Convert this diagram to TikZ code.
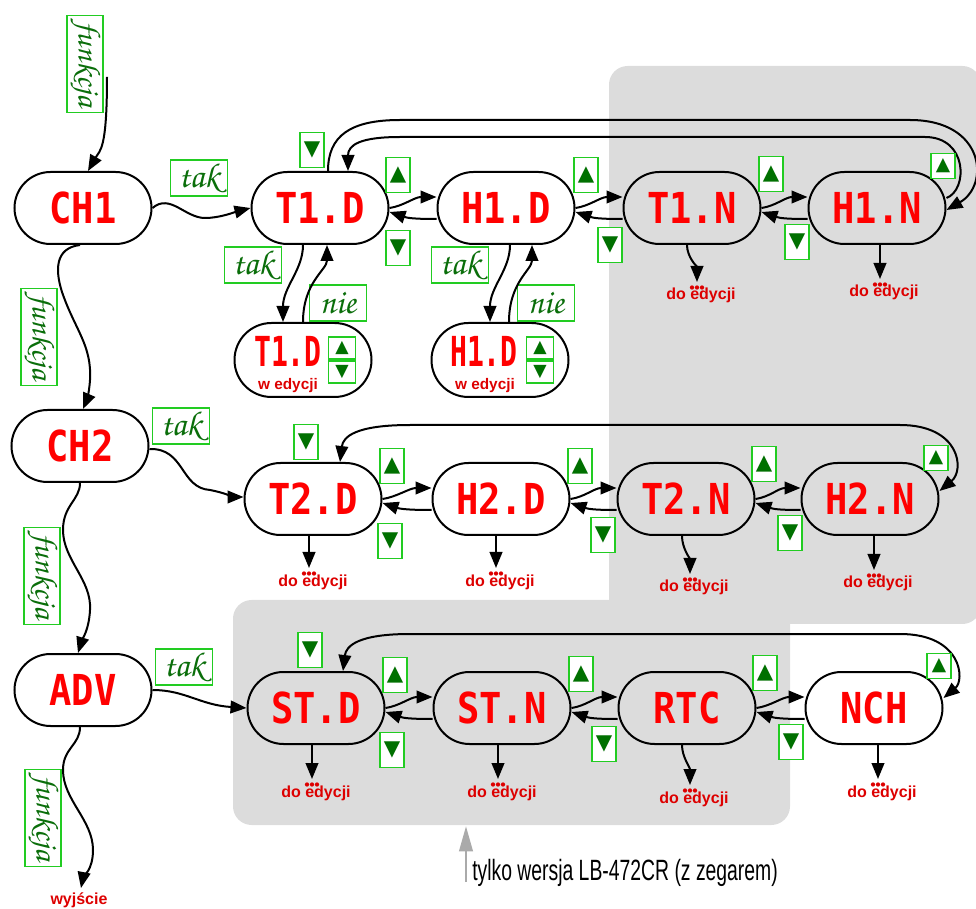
\documentclass[tikz,border=0pt]{standalone}
\usepackage[T1,TU]{fontenc}
\usepackage{fontspec}
\usetikzlibrary{shapes.misc,arrows.meta,calc}
\newfontfamily\dispfam[FakeStretch=0.87]{DejaVu Sans Mono}
\newfontfamily\dispnarrowfam[FakeStretch=0.68]{DejaVu Sans Mono}
\newfontfamily\symfam{DejaVu Sans}
\newfontfamily\arialfam{Liberation Sans}
\newfontfamily\narrowfam[FakeStretch=0.66]{Liberation Sans}
\newcommand\dispfont{\dispfam\bfseries\fontsize{32}{32}\selectfont}
\newcommand\dispnfont{\dispnarrowfam\bfseries\fontsize{31}{31}\selectfont}
\newcommand\chancfont{\fontencoding{T1}\fontfamily{pzc}\fontseries{mb}\fontshape{it}\fontsize{26}{26}\selectfont}
\newcommand\chancvfont{\fontencoding{T1}\fontfamily{pzc}\fontseries{mb}\fontshape{it}\fontsize{24}{24}\selectfont}
\newcommand\symfont{\symfam\fontsize{16}{16}\selectfont}
\newcommand\edfont{\arialfam\bfseries\fontsize{12}{12}\selectfont}
\newcommand\notefont{\narrowfam\fontsize{22}{22}\selectfont}
\definecolor{gbright}{HTML}{22CC22}
\definecolor{gdark}{HTML}{007000}
\definecolor{gtext}{HTML}{0A6E0A}
\definecolor{bggray}{HTML}{DCDCDC}
\definecolor{edred}{HTML}{DD0000}
\definecolor{notegray}{HTML}{AAAAAA}
\newcommand\doedit[3]{%
  \node[edt, anchor=base] (#1) at (#2+4,#3) {do edycji};
  \coordinate (#1a) at (#2,#3-18);
  \foreach \dx in {-5,0,5} \fill[edred] (#2+\dx,#3-12.5) circle[radius=1.6pt];
}
\newcommand\pairarrows[2]{%
  \draw[arr] (#1.east) .. controls +(14,-2) and +(-22,0) .. ($(#2.west)+(0,-11)$);
  \draw[arr] ($(#2.west)+(0,11)$) .. controls +(-22,0) and +(18,6) .. ($(#1.east)+(0,4)$);
}
\begin{document}
\begin{tikzpicture}[x=0.75pt,y=-0.75pt,
  pill/.style={rounded rectangle, draw, line width=1.5pt, minimum width=102.75pt, minimum height=54pt, inner sep=0pt, text=red, font=\dispfont},
  epill/.style={pill, minimum height=55.5pt},
  dtext/.style={inner sep=0pt, text=red, font=\dispnfont},
  arr/.style={line width=1.5pt, -{Triangle[length=12pt,width=9.5pt]}},
  dbl/.style={line width=1.5pt, {Triangle[length=12pt,width=9.5pt]}-{Triangle[length=12pt,width=9.5pt]}},
  gtri/.style={draw=gbright, line width=1.2pt, fill=white, inner sep=0pt, minimum width=18pt, minimum height=26.25pt, text=gdark, font=\symfont},
  gsq/.style={gtri, minimum width=18pt, minimum height=18.75pt, font=\symfam\fontsize{14}{14}\selectfont},
  gedit/.style={gtri, minimum width=20pt, minimum height=16.5pt, font=\symfam\fontsize{13}{13}\selectfont},
  gword/.style={draw=gbright, line width=1.2pt, fill=white, inner sep=0pt, text=gtext, font=\chancfont, minimum width=43pt, minimum height=27pt},
  gvert/.style={gword, rotate=-90, minimum width=73pt, minimum height=27pt, font=\chancvfont},
  edt/.style={inner sep=0pt, text=edred, font=\edfont}
]
\useasboundingbox (0,0) rectangle (976,909);
% gray regions
\fill[bggray, rounded corners=14pt] (609,66) rectangle (981,624);
\fill[bggray, rounded corners=14pt] (233,600) rectangle (790,825);

% main nodes
\node[pill] (CH1) at (83,208) {CH1};
\node[pill] (T1D) at (320,208) {T1.D};
\node[pill] (H1D) at (506,208) {H1.D};
\node[pill] (T1N) at (692,208) {T1.N};
\node[pill] (H1N) at (877,208) {H1.N};
\node[pill] (CH2) at (80,446) {CH2};
\node[pill] (T2D) at (313,499) {T2.D};
\node[pill] (H2D) at (501,499) {H2.D};
\node[pill] (T2N) at (686,499) {T2.N};
\node[pill] (H2N) at (870,499) {H2.N};
\node[pill] (ADV) at (83,690) {ADV};
\node[pill] (STD) at (316,708) {ST.D};
\node[pill] (STN) at (502,708) {ST.N};
\node[pill] (RTC) at (687,708) {RTC};
\node[pill, fill=white] (NCH) at (874,708) {NCH};

% edit nodes
\node[epill] (T1E) at (303,360) {};
\node[dtext] (T1Et) at (288,351) {T1.D};
\node[edt, anchor=base, font=\arialfam\bfseries\fontsize{11.5}{11.5}\selectfont] (T1Ew) at (288,390) {w edycji};
\node[gedit] (T1Eu) at (342,348) {▲};
\node[gedit] (T1Ed) at (342,372) {▼};
\node[epill] (H1E) at (500,360) {};
\node[dtext] (H1Et) at (484,351) {H1.D};
\node[edt, anchor=base, font=\arialfam\bfseries\fontsize{11.5}{11.5}\selectfont] (H1Ew) at (485,390) {w edycji};
\node[gedit] (H1Eu) at (540,348) {▲};
\node[gedit] (H1Ed) at (540,372) {▼};

% word boxes
\node[gvert] (f1) at (85,64) {funkcja};
\node[gvert] (f2) at (39,337) {funkcja};
\node[gvert] (f3) at (42,576) {funkcja};
\node[gvert] (f4) at (43,818) {funkcja};
\node[gword] (tak1) at (199,178) {tak};
\node[gword] (tak2) at (181,426) {tak};
\node[gword] (tak3) at (184,667) {tak};
\node[gword] (tak4) at (253,265) {tak};
\node[gword] (nie1) at (338,303) {nie};
\node[gword] (tak5) at (460,265) {tak};
\node[gword] (nie2) at (546,303) {nie};

% left column connectors
\coordinate (f1s) at (107,77);
\draw[arr] (f1s) .. controls (107,150) and (100,150) .. ($(CH1.north)+(5,0)$);
\draw[arr] ($(CH1.south)+(-3,0)$) .. controls (55,248) and (55,270) .. (62,292)
   .. controls (75,330) and (92,345) .. (90,380) .. controls (89,395) and (86,402) .. ($(CH2.north)+(3,0)$);
\draw[arr] (CH2.south) .. controls (80,500) and (63,505) .. (63,530)
   .. controls (63,560) and (92,580) .. (90,610) .. controls (89,630) and (82,640) .. ($(ADV.north)+(-5,0)$);
\node[edt, anchor=base] (wyj) at (79,904) {wyjście};
\coordinate (wyja) at (81,888);
\draw[arr] ($(ADV.south)+(-3,0)$) .. controls (80,745) and (63,748) .. (63,770)
   .. controls (63,800) and (93,820) .. (93,850) .. controls (93,870) and (83,878) .. (wyja);

% row entries
\draw[arr] (CH1.east) .. controls (170,193) and (185,218) .. (205,218) .. controls (220,218) and (235,212) .. (T1D.west);
\draw[arr] ($(CH2.east)+(0,3)$) .. controls (185,448) and (180,488) .. (210,490) .. controls (225,493) and (235,497) .. ($(T2D.west)+(0,-2)$);
\draw[arr] (ADV.east) .. controls (185,690) and (200,705) .. (STD.west);

% pairs
\pairarrows{T1D}{H1D}
\pairarrows{H1D}{T1N}
\pairarrows{T1N}{H1N}
\pairarrows{T2D}{H2D}
\pairarrows{H2D}{T2N}
\pairarrows{T2N}{H2N}
\pairarrows{STD}{STN}
\pairarrows{STN}{RTC}
\pairarrows{RTC}{NCH}

% loops
\draw[arr] ($(T1D.north)+(8,0)$) .. controls +(0,-35) and (350,120) .. (400,120) -- (910,120)
   .. controls (985,120) and (990,185) .. ($(H1N.east)+(0,2)$);
\draw[arr] ($(H1N.east)+(0,-10)$) .. controls (968,190) and (968,137) .. (925,137) -- (400,137)
   .. controls (360,137) and (348,145) .. ($(T1D.north)+(28,0)$);
\draw[dbl] ($(T2D.north)+(27,0)$) .. controls +(3,-25) and (355,425) .. (410,425) -- (900,425)
   .. controls (960,425) and (965,470) .. ($(H2N.east)+(0,-8)$);
\draw[dbl] ($(STD.north)+(27,0)$) .. controls +(3,-25) and (358,634) .. (410,634) -- (900,634)
   .. controls (962,634) and (965,680) .. ($(NCH.east)+(0,-10)$);

% edit arrows
\draw[arr] ($(T1D.south)+(-17,0)$) .. controls +(0,25) and +(0,-35) .. ($(T1E.north)+(-20,0)$);
\draw[arr] (T1E.north) .. controls +(0,-40) and +(0,25) .. ($(T1D.south)+(7,0)$);
\draw[arr] ($(H1D.south)+(4,0)$) .. controls +(0,25) and +(0,-35) .. ($(H1E.north)+(-10,0)$);
\draw[arr] ($(H1E.north)+(9,0)$) .. controls +(0,-40) and +(0,25) .. ($(H1D.south)+(26,0)$);

% green arrow boxes
\node[gtri] (b1) at (312,150) {▼};
\node[gtri] (b2) at (398,175) {▲};
\node[gtri] (b3) at (398,248) {▼};
\node[gtri] (b4) at (586,175) {▲};
\node[gtri] (b5) at (610,245) {▼};
\node[gtri] (b6) at (771,174) {▲};
\node[gtri] (b7) at (797,242) {▼};
\node[gsq] (b8) at (943,166) {▲};
\node[gtri] (c1) at (306,442) {▼};
\node[gtri] (c2) at (392,466) {▲};
\node[gtri] (c3) at (390,541) {▼};
\node[gtri] (c4) at (580,466) {▲};
\node[gtri] (c5) at (603,535) {▼};
\node[gtri] (c6) at (764,464) {▲};
\node[gtri] (c7) at (790,533) {▼};
\node[gsq] (c8) at (936,458) {▲};
\node[gtri] (d1) at (310,650) {▼};
\node[gtri] (d2) at (395,675) {▲};
\node[gtri] (d3) at (392,750) {▼};
\node[gtri] (d4) at (581,674) {▲};
\node[gtri] (d5) at (604,744) {▼};
\node[gtri] (d6) at (765,673) {▲};
\node[gtri] (d7) at (791,742) {▼};
\node[gsq] (d8) at (939,666) {▲};

% do edycji
\doedit{eT1N}{697}{300}
\doedit{eH1N}{880}{297}
\doedit{eT2D}{309}{586}
\doedit{eH2D}{496}{586}
\doedit{eT2N}{690}{592}
\doedit{eH2N}{874}{588}
\doedit{eSTD}{312}{797}
\doedit{eSTN}{498}{797}
\doedit{eRTC}{690}{803}
\doedit{eNCH}{878}{797}
\draw[arr] ($(T1N.south)+(-5,0)$) .. controls +(0,12) and +(0,-15) .. (eT1Na);
\draw[arr] (eH1Na |- H1N.south) -- (eH1Na);
\draw[arr] (eT2Da |- T2D.south) -- (eT2Da);
\draw[arr] (eH2Da |- H2D.south) -- (eH2Da);
\draw[arr] ($(T2N.south)+(-4,0)$) .. controls +(0,12) and +(0,-15) .. (eT2Na);
\draw[arr] (eH2Na |- H2N.south) -- (eH2Na);
\draw[arr] (eSTDa |- STD.south) -- (eSTDa);
\draw[arr] (eSTNa |- STN.south) -- (eSTNa);
\draw[arr] ($(RTC.south)+(-5,0)$) .. controls +(0,12) and +(0,-18) .. (eRTCa);
\draw[arr] (eNCHa |- NCH.south) -- (eNCHa);

% note
\node[inner sep=0pt, anchor=base west, font=\notefont] (note) at (472,880) {tylko wersja LB-472CR (z zegarem)};
\coordinate (notea) at (466,826);
\draw[line width=2.2pt, notegray, -{Triangle[length=19pt,width=10pt]}] (466,882) -- (notea);
\end{tikzpicture}
\end{document}
